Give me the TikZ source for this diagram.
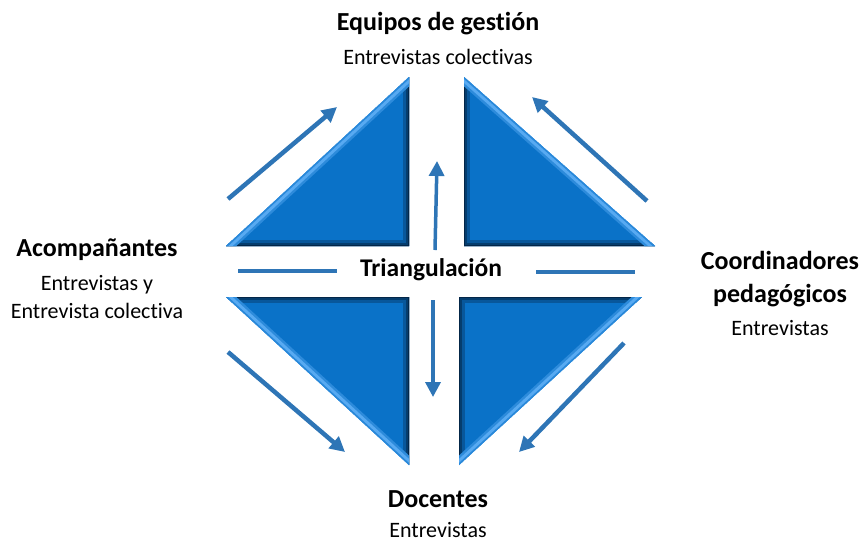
\documentclass[tikz,border=0pt]{standalone}
\usepackage{fontspec}
\setmainfont{Carlito}[Ligatures=NoCommon]
\usetikzlibrary{arrows.meta}
\definecolor{flowblue}{RGB}{46,117,182}
\definecolor{tribase}{RGB}{10,114,200}
\definecolor{tridark}{RGB}{3,38,72}
\definecolor{trilight}{RGB}{88,170,242}

\begin{document}
\begin{tikzpicture}[x=1pt, y=-1pt,
        flow/.style={draw=flowblue, line width=4.5pt, -{Triangle[length=15pt,width=15pt]}},
        bar/.style={draw=flowblue, line width=4.5pt},
        head/.style={font=\fontsize{26}{33}\selectfont\bfseries, align=center},
        sub/.style={font=\fontsize{22}{28}\selectfont, align=center}]
        \useasboundingbox (0,0) rectangle (861,544);

        % triangle corners (right angle first)
        \coordinate (tla) at (409,246);
        \coordinate (tlb) at (409,77);
        \coordinate (tlc) at (226,246);
        \coordinate (tra) at (464,246);
        \coordinate (trb) at (464,77);
        \coordinate (trc) at (655,246);
        \coordinate (bla) at (409,297);
        \coordinate (blb) at (409,465);
        \coordinate (blc) at (226,297);
        \coordinate (bra) at (459,297);
        \coordinate (brb) at (459,465);
        \coordinate (brc) at (642,297);

        % draw triangles
        \foreach \a/\b/\c in {tla/tlb/tlc, tra/trb/trc, bla/blb/blc, bra/brb/brc} {
            \fill[tribase] (\a) -- (\b) -- (\c) -- cycle;
            \begin{scope}
                \clip (\a) -- (\b) -- (\c) -- cycle;
                \draw[tridark!35!tribase, line width=12pt] (\b) -- (\a) -- (\c);
                \draw[tridark!70!tribase, line width=6pt] (\b) -- (\a) -- (\c);
                \draw[tridark, line width=2pt] (\b) -- (\a) -- (\c);
                \draw[trilight!45!tribase, line width=14pt] (\b) -- (\c);
                \draw[trilight, line width=9pt] (\b) -- (\c);
                \draw[trilight!40!tribase, line width=3pt] (\b) -- (\c);
            \end{scope}
        }

        % arrow ends
        \coordinate (s1) at (228,199);
        \coordinate (e1) at (337,107);
        \coordinate (s2) at (647,201);
        \coordinate (e2) at (532,97);
        \coordinate (s3) at (228,352);
        \coordinate (e3) at (345,452);
        \coordinate (s4) at (624,343);
        \coordinate (e4) at (519,452);
        \coordinate (s5) at (435,250);
        \coordinate (e5) at (437,161);
        \coordinate (s6) at (433,300);
        \coordinate (e6) at (433,397);
        \coordinate (h1) at (238,271);
        \coordinate (h2) at (337,271);
        \coordinate (h3) at (536,272);
        \coordinate (h4) at (635,272);

        % draw arrows
        \draw[flow] (s1) -- (e1);
        \draw[flow] (s2) -- (e2);
        \draw[flow] (s3) -- (e3);
        \draw[flow] (s4) -- (e4);
        \draw[flow, line width=3.5pt] (s5) -- (e5);
        \draw[flow, line width=3.5pt] (s6) -- (e6);
        \draw[bar] (h1) -- (h2);
        \draw[bar] (h3) -- (h4);

        % labels
        \node[font=\fontsize{25.5}{30}\selectfont\bfseries] (tri) at (431,270) {Triangulación};
        \node[head] (eq) at (438,24) {Equipos de gestión};
        \node[sub] (eqs) at (438,57) {Entrevistas colectivas};
        \node[head] (ac) at (97,250) {Acompañantes};
        \node[sub] (acs) at (97,297) {Entrevistas y\\Entrevista colectiva};
        \node[head] (co) at (780,279.5) {Coordinadores\\pedagógicos};
        \node[sub] (cos) at (780,328) {Entrevistas};
        \node[head] (do) at (438,499) {Docentes};
        \node[sub] (dos) at (438,530) {Entrevistas};
\end{tikzpicture}
\end{document}
